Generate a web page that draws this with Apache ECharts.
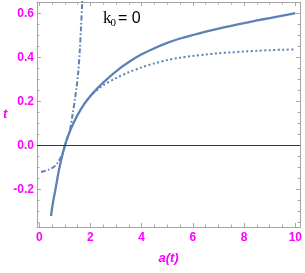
<!DOCTYPE html>
<html>
<head>
<meta charset="utf-8">
<script src="https://cdn.jsdelivr.net/npm/echarts@6/dist/echarts.min.js"></script>
<style>html,body{margin:0;padding:0;background:#fff}#c{width:305px;height:273px}</style>
</head>
<body>
<div id="c"></div>
<script>
// a(t) values and t values
var solidA = [0.46,0.5,0.55,0.62,0.7,0.8,0.9,1.0,1.1,1.25,1.5,1.75,2.0,2.25,2.5,3.0,3.5,4.0,4.5,5.0,5.5,6.0,6.5,7.0,7.5,8.0,8.5,9.0,9.5,10.0];
var solidT = [-0.32,-0.287,-0.25,-0.208,-0.155,-0.095,-0.045,0.0,0.035,0.08,0.14,0.188,0.226,0.258,0.287,0.338,0.38,0.415,0.443,0.467,0.487,0.503,0.518,0.532,0.545,0.557,0.569,0.58,0.591,0.602];
var dotA = [1.75,2.0,2.25,2.5,3.0,3.5,4.0,4.5,5.0,5.5,6.0,6.5,7.0,7.5,8.0,8.5,9.0,9.5,10.0];
var dotT = [0.19,0.226,0.252,0.275,0.307,0.334,0.356,0.374,0.389,0.4,0.408,0.414,0.42,0.424,0.428,0.431,0.434,0.436,0.437];
var dashA = [0.07,0.2,0.35,0.5,0.62,0.72,0.82,0.9,1.0,1.1,1.2,1.3,1.4,1.46,1.52,1.585,1.63,1.68,1.72];
var dashT = [-0.12,-0.116,-0.11,-0.102,-0.092,-0.078,-0.058,-0.04,-0.003,0.035,0.07,0.14,0.215,0.266,0.33,0.433,0.53,0.653,0.76];
var xMajor = [0,2,4,6,8,10];
var xMinor = [0.5,1,1.5,2.5,3,3.5,4.5,5,5.5,6.5,7,7.5,8.5,9,9.5];
var yMajor = [-0.2,0.0,0.2,0.4,0.6];
var yMinor = [-0.35,-0.3,-0.25,-0.15,-0.1,-0.05,0.05,0.1,0.15,0.25,0.3,0.35,0.45,0.5,0.55];
var xName = 'a(t)';
var yName = 't';

function zip(a, b){ return a.map(function(v,i){ return [v, b[i]]; }); }

var XMIN = -0.09, XMAX = 10.19, YMIN = -0.37, YMAX = 0.653;
var frame = '#a6a6a6';
var mag = '#ff00ff';
var lblFont = '"Liberation Sans Narrow", "Liberation Sans", Arial, sans-serif';

function xAx(pos, ticks, len, labels, showLine, extra){
  var o = {
    type:'value', min:XMIN, max:XMAX, position:pos,
    splitLine:{show:false},
    axisLine:{show:showLine, onZero:false, lineStyle:{color:frame, width:1}},
    axisTick:{show:true, inside:true, length:len, customValues:ticks, lineStyle:{color:frame, width:1}},
    axisLabel: labels ? {show:true, customValues:ticks, color:mag, fontSize:12, fontWeight:'bold', fontFamily:lblFont, margin:5, formatter:function(v){return String(v);}} : {show:false}
  };
  if (extra) for (var k in extra) o[k] = extra[k];
  return o;
}
function yAx(pos, ticks, len, labels, showLine, extra){
  var o = {
    type:'value', min:YMIN, max:YMAX, position:pos,
    splitLine:{show:false},
    axisLine:{show:showLine, onZero:false, lineStyle:{color:frame, width:1}},
    axisTick:{show:true, inside:true, length:len, customValues:ticks, lineStyle:{color:frame, width:1}},
    axisLabel: labels ? {show:true, customValues:ticks, color:mag, fontSize:12, fontWeight:'bold', fontFamily:lblFont, margin:3, formatter:function(v){return v.toFixed(1);}} : {show:false}
  };
  if (extra) for (var k in extra) o[k] = extra[k];
  return o;
}

var chart = echarts.init(document.getElementById('c'), null, {renderer:'canvas'});
var blue = '#5e81b5';
chart.setOption({
  animation:false,
  grid:{left:35, right:3, top:2, bottom:46, containLabel:false},
  xAxis:[
    xAx('bottom', xMajor, 4, true, true, {name:xName, nameLocation:'middle', nameGap:25,
      nameTextStyle:{color:mag, fontSize:13, fontStyle:'italic', fontWeight:'bold', fontFamily:lblFont}}),
    xAx('bottom', xMinor, 2.5, false, false),
    xAx('top', xMajor, 4, false, true),
    xAx('top', xMinor, 2.5, false, false)
  ],
  yAxis:[
    yAx('left', yMajor, 4, true, true, {name:yName, nameLocation:'middle', nameGap:25, nameRotate:0,
      nameTextStyle:{color:mag, fontSize:13, fontStyle:'italic', fontWeight:'bold', fontFamily:lblFont}}),
    yAx('left', yMinor, 2.5, false, false),
    yAx('right', yMajor, 4, false, true),
    yAx('right', yMinor, 2.5, false, false)
  ],
  series:[
    {type:'line', data:zip(solidA, solidT), showSymbol:false, smooth:0.3, clip:true,
      lineStyle:{color:blue, width:2.3},
      markLine:{silent:true, symbol:'none', label:{show:false}, animation:false,
        lineStyle:{color:'#333', width:1, type:'solid'}, data:[{yAxis:0}]}},
    {type:'line', data:zip(dotA, dotT), showSymbol:false, smooth:0.3, clip:true,
      lineStyle:{color:blue, width:2, type:[2,2.5], cap:'butt'}},
    {type:'line', data:zip(dashA, dashT), showSymbol:false, smooth:0.3, clip:true,
      lineStyle:{color:blue, width:2, type:[5,2.2,1.6,2.2], cap:'butt'}}
  ],
  graphic:[
    {type:'text', left:103, top:10, style:{text:'k', fontSize:17, fontFamily:'"Liberation Serif", "Times New Roman", serif', fill:'#000'}},
    {type:'text', left:110.5, top:17.5, style:{text:'0', fontSize:11, fontFamily:'"Liberation Serif", "Times New Roman", serif', fill:'#000'}},
    {type:'text', left:118, top:11, style:{text:'= 0', fontSize:16, fontFamily:lblFont, fill:'#000'}}
  ]
});
</script>
</body>
</html>
